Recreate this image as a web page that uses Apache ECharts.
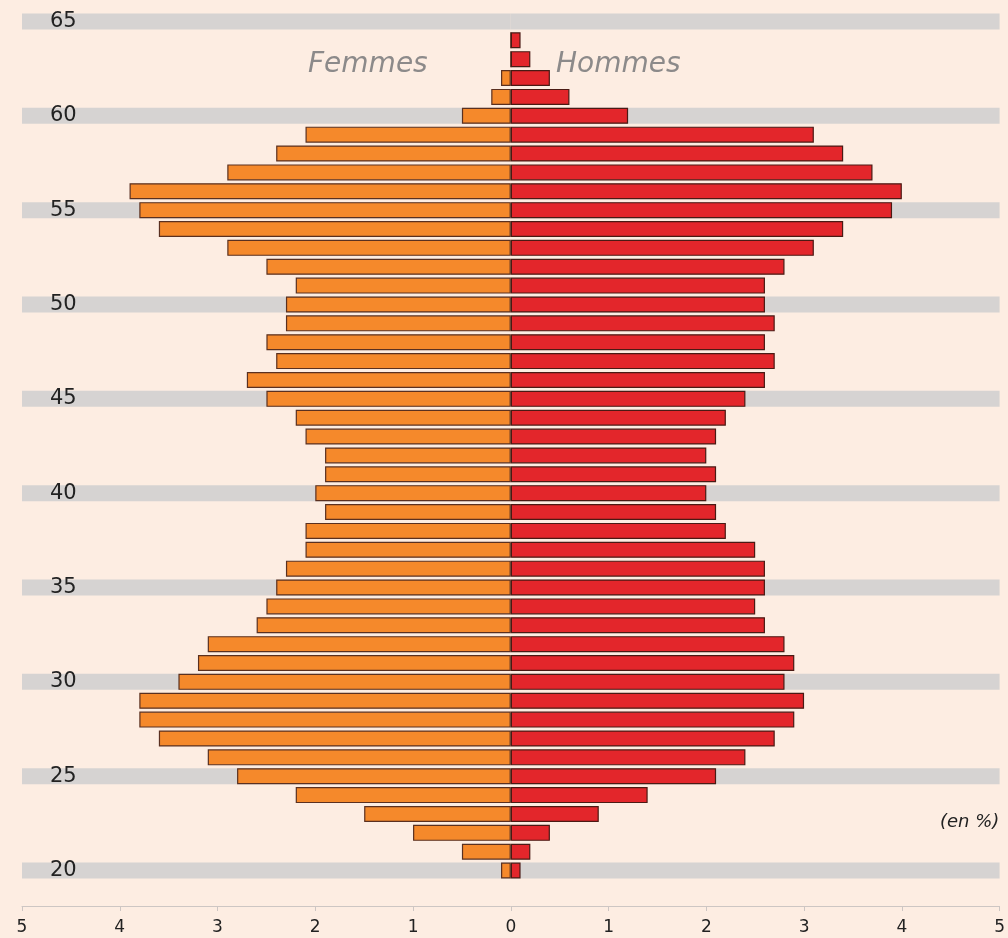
<!DOCTYPE html>
<html>
<head>
<meta charset="utf-8">
<script src="https://cdn.jsdelivr.net/npm/echarts@6/dist/echarts.min.js"></script>
<style>
html,body{margin:0;padding:0;background:#fdede2;}
#chart{width:1008px;height:938px;}
</style>
</head>
<body>
<div id="chart"></div>
<script>
// Ages (categories), bottom to top
const ages = [];
for (let a = 20; a <= 65; a++) ages.push(String(a));
// Labelled / banded ages
const tickAges = ['20','25','30','35','40','45','50','55','60','65'];
// Femmes (%), ages 20..65
const femmes = [0.1,0.5,1.0,1.5,2.2,2.8,3.1,3.6,3.8,3.8,
                3.4,3.2,3.1,2.6,2.5,2.4,2.3,2.1,2.1,1.9,
                2.0,1.9,1.9,2.1,2.2,2.5,2.7,2.4,2.5,2.3,
                2.3,2.2,2.5,2.9,3.6,3.8,3.9,2.9,2.4,2.1,
                0.5,0.2,0.1,0,0,null];
// Hommes (%), ages 20..65
const hommes = [0.1,0.2,0.4,0.9,1.4,2.1,2.4,2.7,2.9,3.0,
                2.8,2.9,2.8,2.6,2.5,2.6,2.6,2.5,2.2,2.1,
                2.0,2.1,2.0,2.1,2.2,2.4,2.6,2.7,2.6,2.7,
                2.6,2.6,2.8,3.1,3.4,3.9,4.0,3.7,3.4,3.1,
                1.2,0.6,0.4,0.2,0.1,null];
const axisTicks = [-5,-4,-3,-2,-1,0,1,2,3,4,5];

const font = '"DejaVu Sans", sans-serif';
const bandLeft = ages.map(a => tickAges.includes(a) ? axisTicks[0] : null);
const bandRight = ages.map(a => tickAges.includes(a) ? axisTicks[axisTicks.length-1] : null);

const chart = echarts.init(document.getElementById('chart'));
chart.setOption({
  backgroundColor: '#fdede2',
  animation: false,
  grid: {left: 22, right: 8, top: 12, bottom: 58, containLabel: false},
  xAxis: {
    type: 'value', min: axisTicks[0], max: axisTicks[axisTicks.length-1], interval: 1,
    offset: 26,
    splitLine: {show: false},
    axisLine: {show: true, lineStyle: {color: '#cdc6c3', width: 1}},
    axisTick: {show: true, length: 5, lineStyle: {color: '#cdc6c3'}},
    axisLabel: {formatter: v => String(Math.abs(v)), color: '#222', fontSize: 17, fontFamily: font, margin: 13}
  },
  yAxis: {
    type: 'category', data: ages, z: 10,
    axisLine: {show: false}, axisTick: {show: false},
    axisLabel: {
      inside: true, margin: 28, color: '#222', fontSize: 21, fontFamily: font,
      interval: (i, v) => tickAges.includes(v)
    }
  },
  series: [
    {type: 'bar', name: 'bandL', data: bandLeft, barWidth: 16, barGap: '-100%', z: 1,
     itemStyle: {color: '#d6d3d2'}, silent: true},
    {type: 'bar', name: 'bandR', data: bandRight, barWidth: 16, barGap: '-100%', z: 1,
     itemStyle: {color: '#d6d3d2'}, silent: true},
    {type: 'bar', name: 'Femmes', data: femmes.map(v => v == null ? null : -v), barWidth: 16, barGap: '-100%', z: 3,
     itemStyle: {color: '#f5892b', borderColor: '#5a3020', borderWidth: 1.2}},
    {type: 'bar', name: 'Hommes', data: hommes, barWidth: 16, barGap: '-100%', z: 3,
     itemStyle: {color: '#e3262b', borderColor: '#4a1a14', borderWidth: 1.2}}
  ],
  graphic: [
    {type: 'text', left: 308, top: 51, style: {text: 'Femmes', fill: '#8c8a8a', fontSize: 28, fontStyle: 'italic', fontWeight: 200, fontFamily: font}},
    {type: 'text', left: 556, top: 51, style: {text: 'Hommes', fill: '#8c8a8a', fontSize: 28, fontStyle: 'italic', fontWeight: 200, fontFamily: font}},
    {type: 'text', left: 940, top: 813, style: {text: '(en %)', fill: '#222', fontSize: 18, fontStyle: 'italic', fontFamily: font}}
  ]
});
</script>
</body>
</html>
